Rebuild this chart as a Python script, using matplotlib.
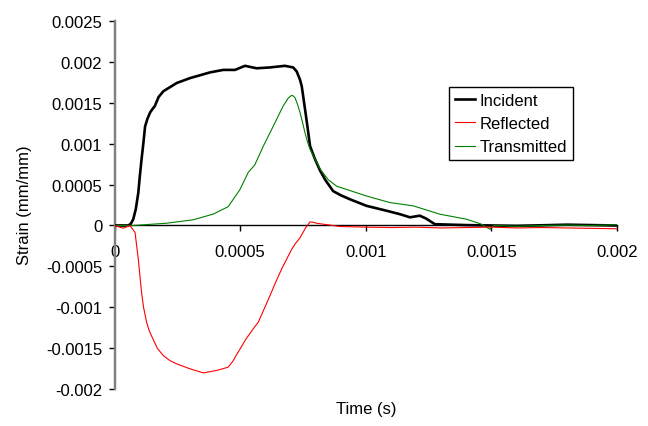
import matplotlib
matplotlib.use('Agg')
import matplotlib.pyplot as plt
import numpy as np

plt.rcParams['font.family'] = ['Liberation Sans', 'DejaVu Sans']
plt.rcParams['font.size'] = 12

# values (time in s, strain in mm/mm)
t_inc = [0, 0.000054, 0.000064, 0.000074, 0.000084, 0.000094, 0.0001, 0.000107,
         0.000114, 0.000121, 0.00013, 0.000141, 0.00015, 0.00016, 0.000175,
         0.000194, 0.000247, 0.0003, 0.00038, 0.000432, 0.000479, 0.000519, 0.000565,
         0.000618, 0.000678, 0.000711, 0.000725, 0.000738, 0.000745, 0.000758,
         0.000768, 0.000778, 0.000795, 0.000818, 0.00084, 0.00087, 0.0009,
         0.000937, 0.001003, 0.001083, 0.001136, 0.001176, 0.001215, 0.00124, 0.001275,
         0.0014, 0.0016, 0.0018, 0.0019, 0.002]
y_inc = [0, 0, 0.00002, 0.000077, 0.0002, 0.0004, 0.0006, 0.00081,
         0.001, 0.00121, 0.0013, 0.00138, 0.00142, 0.00146, 0.00157,
         0.00164, 0.00174, 0.0018, 0.00187, 0.0019, 0.0019, 0.00195, 0.00192,
         0.00193, 0.00195, 0.00193, 0.00188, 0.00178, 0.0017, 0.00142,
         0.0012, 0.00097, 0.00083, 0.00067, 0.00055, 0.00042, 0.00037,
         0.00032, 0.00024, 0.00018, 0.000138, 0.0001, 0.00012, 0.000085, 0.000016,
         0.000005, -0.000005, 0.00001, 0.000005, 0.0]

t_ref = [0, 0.000034, 0.000061, 0.000081, 0.000094, 0.000107, 0.000115, 0.000127,
         0.000137, 0.000147, 0.00017, 0.000194, 0.00022, 0.000247, 0.0003, 0.000353,
         0.000406, 0.000452, 0.00047, 0.000485, 0.000499, 0.00052, 0.000552,
         0.000572, 0.000595, 0.000618, 0.00064, 0.000665, 0.000705, 0.00072, 0.000738,
         0.00076, 0.000778, 0.00079, 0.000804, 0.00083,
         0.000897, 0.001, 0.0011, 0.0012, 0.0013, 0.0014, 0.0015, 0.0016, 0.0017,
         0.0018, 0.0019, 0.002]
y_ref = [0, -0.000033, 0, -0.000085, -0.00041, -0.00082, -0.001, -0.00118,
         -0.00128, -0.00135, -0.0015, -0.00159, -0.00165, -0.00169, -0.00175, -0.0018,
         -0.00177, -0.00173, -0.00166, -0.00158, -0.00151, -0.0014, -0.00126,
         -0.00118, -0.00102, -0.00086, -0.0007, -0.00053, -0.00029, -0.00022, -0.00015,
         -0.00003, 0.000044, 0.00004, 0.000028, 0.000016,
         -0.000012, -0.00002, -0.000025, -0.00002, -0.00003, -0.000025, -0.00002, -0.00003,
         -0.000025, -0.00003, -0.000035, -0.00004]

t_tra = [0, 0.000074, 0.000207, 0.000313, 0.000393, 0.000452, 0.000499, 0.000532,
         0.000558, 0.000592, 0.000631, 0.000671, 0.00069, 0.0007, 0.000708, 0.000718,
         0.000728, 0.000738, 0.000748, 0.000758, 0.000768, 0.000778, 0.0008,
         0.000818, 0.00085, 0.000884, 0.001003, 0.001096, 0.001189, 0.001295, 0.001401,
         0.001461, 0.001494, 0.00151, 0.0016, 0.0017, 0.0018, 0.0019, 0.002]
y_tra = [0, 0, 0.000028, 0.00007, 0.00014, 0.00023, 0.00044, 0.00065,
         0.00074, 0.00097, 0.00121, 0.00146, 0.00155, 0.00158, 0.00159, 0.00156,
         0.00148, 0.00138, 0.00126, 0.00113, 0.00102, 0.00093, 0.0008,
         0.00069, 0.00056, 0.00048, 0.00036, 0.00028, 0.00024, 0.000138, 0.000077,
         0.000016, -0.000045, 0.0, -0.00001, 0.0, 0.000005, 0.0, 0.00001]

x_ticks = [0, 0.0005, 0.001, 0.0015, 0.002]
x_labels = ['0', '0.0005', '0.001', '0.0015', '0.002']
y_ticks = [-0.002, -0.0015, -0.001, -0.0005, 0, 0.0005, 0.001, 0.0015, 0.002, 0.0025]
y_labels = ['-0.002', '-0.0015', '-0.001', '-0.0005', '0', '0.0005', '0.001',
            '0.0015', '0.002', '0.0025']

fig = plt.figure(figsize=(6.48, 4.27), dpi=100)
ax = fig.add_axes([0.177, 0.086, 0.775, 0.863])

ax.plot(t_inc, y_inc, color='black', linewidth=1.9, label='Incident', zorder=3)
ax.plot(t_ref, y_ref, color='#ff0000', linewidth=0.8, label='Reflected', zorder=4)
ax.plot(t_tra, y_tra, color='#008000', linewidth=0.8, label='Transmitted', zorder=3)

ax.set_xlim(0, 0.002)
ax.set_ylim(-0.002, 0.0025)
ax.set_xticks(x_ticks)
ax.set_xticklabels(x_labels)
ax.set_yticks(y_ticks)
ax.set_yticklabels(y_labels)

ax.spines['top'].set_visible(False)
ax.spines['right'].set_visible(False)
ax.spines['bottom'].set_position(('data', 0))
ax.spines['bottom'].set_linewidth(1.0)
ax.spines['bottom'].set_zorder(2)
ax.spines['left'].set_color('#808080')
ax.spines['left'].set_linewidth(1.75)
ax.tick_params(axis='x', direction='out', length=4, width=1, pad=9)
ax.tick_params(axis='y', direction='out', length=4, width=1, pad=5)

fig.text(366 / 648, 1 - 410 / 427, 'Time (s)', ha='center', va='center')
fig.text(25 / 648, 1 - 205 / 427, 'Strain (mm/mm)', ha='center', va='center',
         rotation=90)

leg = ax.legend(loc='upper left', bbox_to_anchor=(449 / 648, 1 - 88 / 427),
                bbox_transform=fig.transFigure, fancybox=False, framealpha=1,
                edgecolor='black', handlelength=1.2, handletextpad=0.3,
                borderpad=0.35, labelspacing=0.5, borderaxespad=0)
leg.get_frame().set_linewidth(1.0)

fig.savefig('out.png', dpi=100)
